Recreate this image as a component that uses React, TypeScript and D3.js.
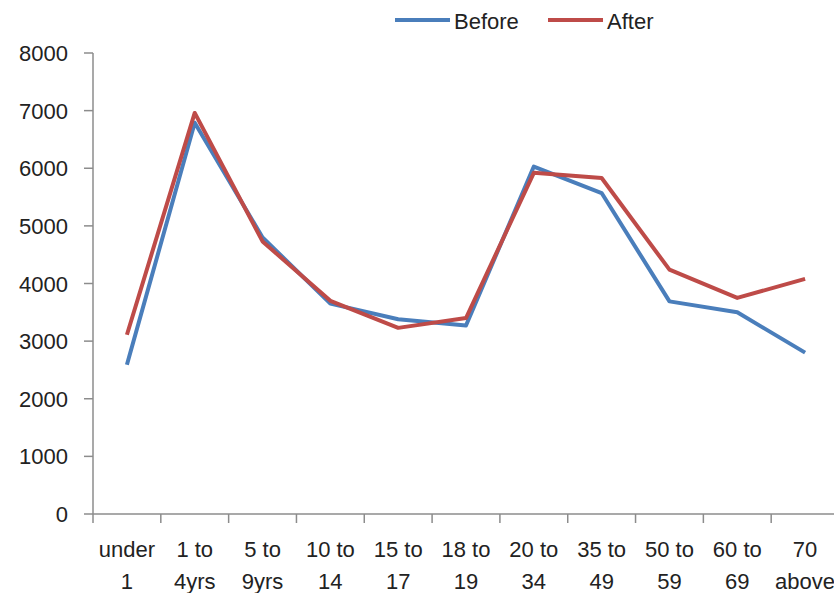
import React from "react";
import * as d3 from "d3";

const categories = [
  ["under", "1"],
  ["1 to", "4yrs"],
  ["5 to", "9yrs"],
  ["10 to", "14"],
  ["15 to", "17"],
  ["18 to", "19"],
  ["20 to", "34"],
  ["35 to", "49"],
  ["50 to", "59"],
  ["60 to", "69"],
  ["70", "above"],
];
const beforeValues = [2590, 6790, 4800, 3650, 3380, 3270, 6030, 5570, 3690, 3500, 2800];
const afterValues = [3110, 6960, 4730, 3700, 3230, 3400, 5920, 5830, 4240, 3750, 4080];
const yTicks = [0, 1000, 2000, 3000, 4000, 5000, 6000, 7000, 8000];

const series = [
  { name: "Before", values: beforeValues, color: "#4a7ebb" },
  { name: "After", values: afterValues, color: "#be4b48" },
];

export default function App() {
  const W = 834, H = 593;
  const left = 93, right = 839, top = 53, bottom = 514;
  const x = d3.scaleBand<number>().domain(categories.map((_, i) => i)).range([left, right]);
  const y = d3.scaleLinear().domain([0, 8000]).range([bottom, top]);
  const line = d3.line<number>().x((_, i) => x(i)! + x.bandwidth() / 2).y((d) => y(d));
  const font = "'Liberation Sans', Arial, sans-serif";
  const axisColor = "#8c8c8c";
  const textColor = "#222";
  const legend = [
    { x1: 395, x2: 450, tx: 454 },
    { x1: 548, x2: 603, tx: 607 },
  ];
  return (
    <svg width={W} height={H} style={{ position: "absolute", left: 0, top: 0, background: "#fff" }} fontFamily={font}>
      {/* y axis */}
      <line x1={left} x2={left} y1={top} y2={bottom} stroke={axisColor} strokeWidth={1.5} />
      {yTicks.map((t) => (
        <g key={t}>
          <line x1={left - 9} x2={left} y1={y(t)} y2={y(t)} stroke={axisColor} strokeWidth={1.5} />
          <text x={68} y={y(t) + 8} textAnchor="end" fontSize={22} fill={textColor}>
            {t}
          </text>
        </g>
      ))}
      {/* x axis */}
      <line x1={left} x2={W} y1={bottom} y2={bottom} stroke={axisColor} strokeWidth={1.5} />
      {categories.map((_, i) => (
        <line key={i} x1={x(i)!} x2={x(i)!} y1={bottom} y2={bottom + 9} stroke={axisColor} strokeWidth={1.5} />
      ))}
      {categories.map((c, i) => (
        <text key={i} x={x(i)! + x.bandwidth() / 2} textAnchor="middle" fontSize={22} fill={textColor}>
          <tspan x={x(i)! + x.bandwidth() / 2} y={557}>{c[0]}</tspan>
          <tspan x={x(i)! + x.bandwidth() / 2} y={589}>{c[1]}</tspan>
        </text>
      ))}
      {series.map((s) => (
        <path key={s.name} d={line(s.values)!} fill="none" stroke={s.color} strokeWidth={4} strokeLinejoin="round" />
      ))}
      {series.map((s, i) => (
        <g key={s.name}>
          <line x1={legend[i].x1} x2={legend[i].x2} y1={20} y2={20} stroke={s.color} strokeWidth={4} />
          <text x={legend[i].tx} y={29} fontSize={22} fill={textColor}>
            {s.name}
          </text>
        </g>
      ))}
    </svg>
  );
}
